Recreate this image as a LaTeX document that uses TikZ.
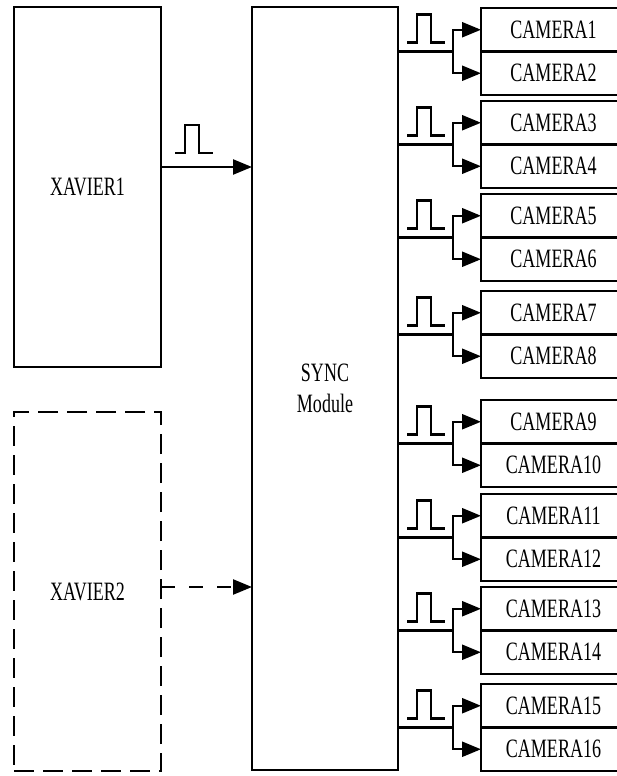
\documentclass[tikz,border=0pt]{standalone}
\usepackage{fontspec}
\setmainfont{Liberation Serif}[FakeStretch=0.68]
\usetikzlibrary{arrows.meta, positioning, calc}

\tikzset{
  blk/.style={draw, line width=2.4pt, outer sep=0pt, inner sep=0pt,
    minimum width=145pt, font=\fontsize{26.5}{31}\selectfont},
  sig/.style={line width=2.4pt},
  tip/.style={-{Triangle[length=19pt,width=15pt]}},
}
\newcommand{\pulseshape}[1]{%
  \draw[sig] #1 -- ++(10,0) -- ++(0,-28) -- ++(14,0) -- ++(0,28) -- ++(14,0);}

\begin{document}
\begin{tikzpicture}[x=1pt,y=-1pt]
\useasboundingbox (0,0) rectangle (616,776);

% hosts and sync board
\node[blk, minimum width=147pt, minimum height=360pt] (xav1) at (87.5,187) {XAVIER1};
\node[blk, dash pattern=on 20pt off 9pt, minimum width=147pt, minimum height=359pt] (xav2) at (87.5,591.5) {XAVIER2};
\node[blk, minimum width=146pt, minimum height=763pt, align=center] (sync) at (325,388.5) {SYNC\\Module};

\draw[sig, tip] (xav1.east |- 0,167) -- (sync.west |- 0,167);
\pulseshape{(175,153)}
\draw[sig, tip, dash pattern=on 14pt off 14pt] (xav2.east |- 0,587) -- (sync.west |- 0,587);

% camera pairs
\foreach \t [count=\i] in {8,101,194,291,400,494,587,684} {
  \pgfmathtruncatemacro{\a}{2*\i-1}
  \pgfmathtruncatemacro{\b}{2*\i}
  \node[blk, minimum height=43.5pt] (cam\a) at (553.5,\t+21.75) {CAMERA\a};
  \node[blk, minimum height=43.5pt, below=0pt of cam\a] (cam\b) {CAMERA\b};
  \coordinate (fork\i) at (453,\t+43.5);
  \draw[sig] (sync.east |- fork\i) -- (fork\i);
  \draw[sig, tip] (fork\i) |- (cam\a.west);
  \draw[sig, tip] (fork\i) |- (cam\b.west);
  \pulseshape{(407,\t+34.5)}
}
\end{tikzpicture}
\end{document}
